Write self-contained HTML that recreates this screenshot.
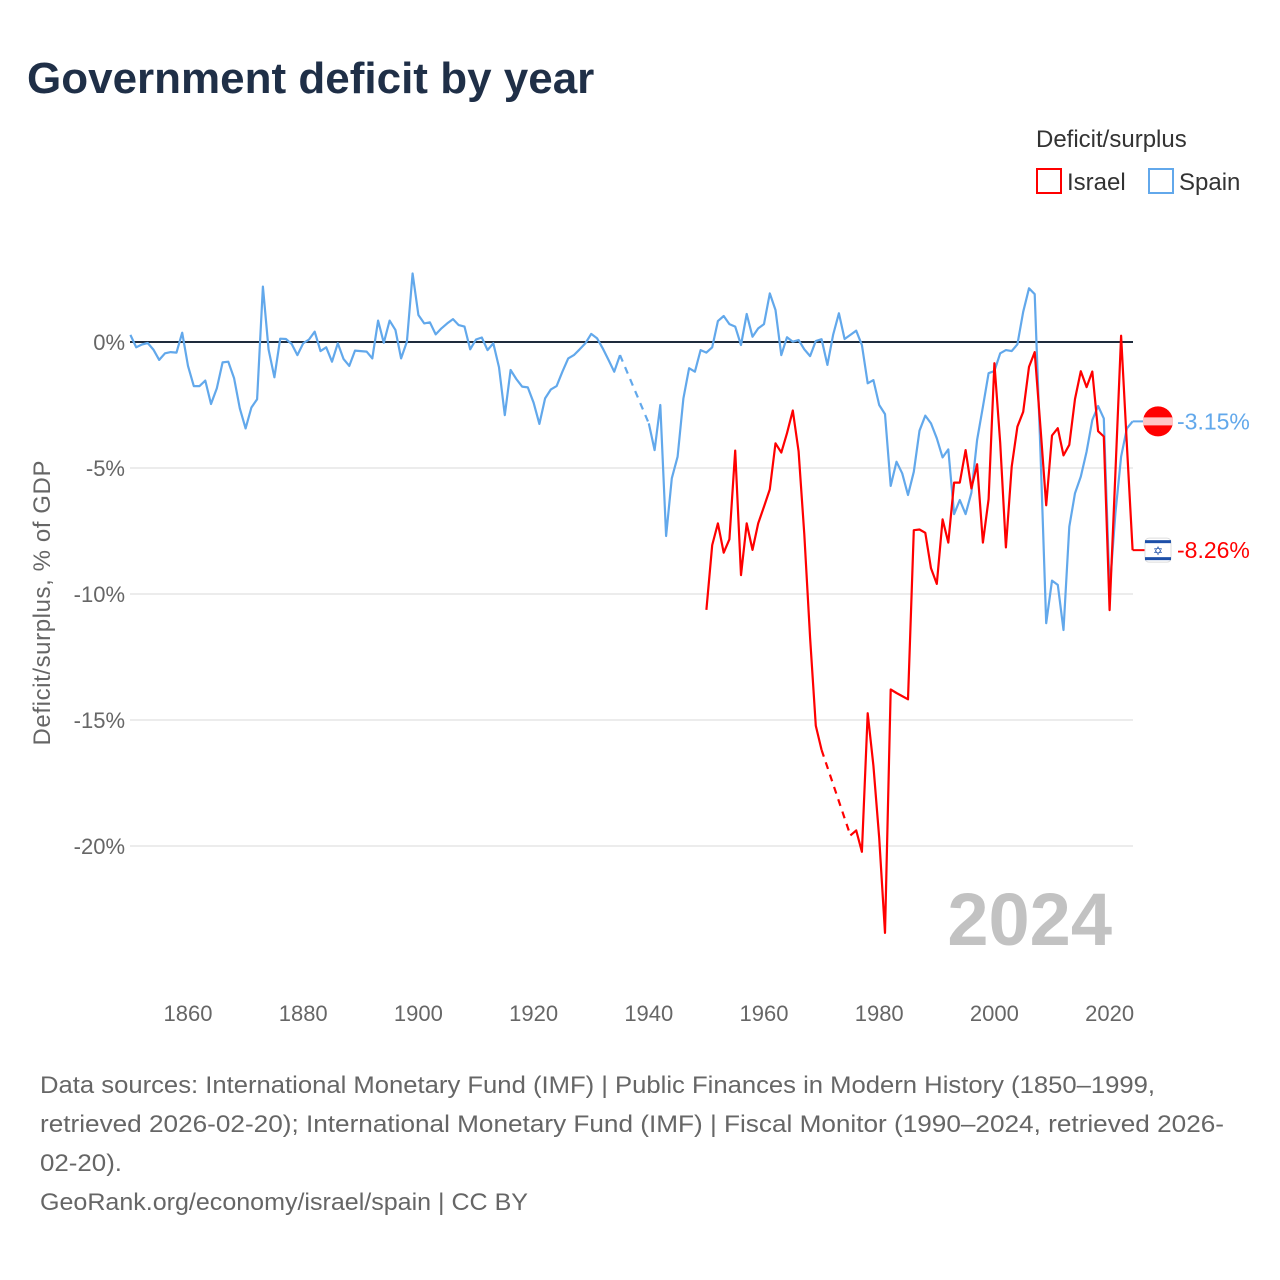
<!DOCTYPE html>
<html><head><meta charset="utf-8">
<style>
body{margin:0;background:#fff;font-family:"Liberation Sans",sans-serif;}
#wrap{position:relative;width:1280px;height:1280px;overflow:hidden;}
</style></head>
<body>
<div id="wrap">
<svg id="chart" width="1280" height="1280" xmlns="http://www.w3.org/2000/svg">
  <text x="27" y="93" font-size="44" font-weight="bold" fill="#1f2f47" font-family="Liberation Sans, sans-serif">Government deficit by year</text>
  <g font-family="Liberation Sans, sans-serif">
    <text x="1036" y="147" font-size="24" fill="#333">Deficit/surplus</text>
    <g>
      <rect x="1037" y="169" width="24" height="24" fill="#fff" stroke="#f00" stroke-width="2"/>
      <text x="1067" y="190" font-size="24" fill="#333">Israel</text>
    </g>
    <g>
      <rect x="1149" y="169" width="24" height="24" fill="#fff" stroke="#62a8eb" stroke-width="2"/>
      <text x="1179" y="190" font-size="24" fill="#333">Spain</text>
    </g>
  </g>
  <text transform="translate(50,603) rotate(-90)" text-anchor="middle" font-size="24" fill="#666" font-family="Liberation Sans, sans-serif" textLength="285">Deficit/surplus, % of GDP</text>
  <text x="1112" y="945" text-anchor="end" font-size="74" font-weight="bold" fill="#c2c2c2" font-family="Liberation Sans, sans-serif">2024</text>
  <g id="grid"></g>
  <g id="xticks"></g>
  <g id="series"></g>
  <g id="labels"></g>
  <g font-size="24" fill="#666" font-family="Liberation Sans, sans-serif">
    <text x="40" y="1093" textLength="1115" lengthAdjust="spacingAndGlyphs">Data sources: International Monetary Fund (IMF) | Public Finances in Modern History (1850–1999,</text>
    <text x="40" y="1132" textLength="1184" lengthAdjust="spacingAndGlyphs">retrieved 2026-02-20); International Monetary Fund (IMF) | Fiscal Monitor (1990–2024, retrieved 2026-</text>
    <text x="40" y="1171" textLength="82" lengthAdjust="spacingAndGlyphs">02-20).</text>
    <text x="40" y="1210" textLength="488" lengthAdjust="spacingAndGlyphs">GeoRank.org/economy/israel/spain | CC BY</text>
  </g>
</svg>
</div>
<script>
const yTicks = [0, -5, -10, -15, -20];
const xTicks = [1860, 1880, 1900, 1920, 1940, 1960, 1980, 2000, 2020];
const spainStart = 1850;
const spainValues = [0.28,-0.21,-0.1,-0.04,-0.3,-0.71,-0.45,-0.4,-0.42,0.37,
-0.95,-1.75,-1.75,-1.53,-2.46,-1.84,-0.81,-0.78,-1.44,-2.63,
-3.43,-2.6,-2.27,2.2,-0.3,-1.4,0.13,0.12,-0.08,-0.52,
-0.05,0.1,0.41,-0.36,-0.21,-0.78,-0.05,-0.67,-0.95,-0.34,
-0.36,-0.38,-0.65,0.85,-0.03,0.85,0.48,-0.65,0.01,2.72,
1.07,0.74,0.78,0.3,0.54,0.74,0.91,0.67,0.61,-0.29,
0.1,0.18,-0.32,-0.05,-1.0,-2.9,-1.11,-1.47,-1.77,-1.8,
-2.41,-3.25,-2.24,-1.88,-1.75,-1.18,-0.65,-0.52,-0.29,-0.05,
0.32,0.15,-0.25,-0.71,-1.18,-0.52,null,null,null,null,
-3.23,-4.29,-2.5,-7.7,-5.41,-4.55,-2.24,-1.04,-1.18,-0.32,
-0.42,-0.21,0.83,1.03,0.71,0.61,-0.12,1.11,0.21,0.54,
0.71,1.93,1.27,-0.52,0.19,0.01,0.08,-0.29,-0.56,0.04,
0.11,-0.91,0.28,1.14,0.12,0.28,0.45,-0.12,-1.64,-1.51,
-2.5,-2.86,-5.71,-4.75,-5.21,-6.07,-5.15,-3.52,-2.92,-3.23,
-3.82,-4.58,-4.26,-6.83,-6.27,-6.83,-5.98,-3.89,-2.57,-1.24,
-1.15,-0.45,-0.32,-0.36,-0.09,1.2,2.13,1.9,-4.4,-11.16,
-9.47,-9.64,-11.43,-7.33,-6.0,-5.34,-4.35,-3.1,-2.54,-3.03,
-9.84,-6.8,-4.55,-3.43,-3.15];
const israelStart = 1950;
const israelValues = [-10.63,-8.06,-7.2,-8.36,-7.83,-4.31,-9.25,-7.2,-8.25,-7.2,
-6.53,-5.85,-4.02,-4.39,-3.62,-2.72,-4.34,-7.63,-11.74,-15.23,
-16.19,null,null,null,null,-19.58,-19.38,-20.23,-14.73,-16.81,
-19.68,-23.45,-13.79,-13.93,-14.05,-14.18,-7.47,-7.44,-7.57,-8.98,
-9.6,-7.04,-7.96,-5.58,-5.58,-4.29,-5.81,-4.85,-7.96,-6.24,
-0.84,-4.0,-8.15,-4.95,-3.36,-2.77,-0.99,-0.4,-3.4,-6.48,
-3.71,-3.42,-4.5,-4.08,-2.26,-1.16,-1.79,-1.17,-3.54,-3.75,
-10.64,-5.2,0.25,-4.1,-8.26];
const finalLabels = ["-3.15%", "-8.26%"];

const NS = "http://www.w3.org/2000/svg";
function xS(yr){ return 130.4 + (yr - 1850) * 5.76; }
function yS(v){ return 342 - v * 25.2; }
function mk(tag, attrs, parent){ const e=document.createElementNS(NS,tag); for(const k in attrs) e.setAttribute(k,attrs[k]); parent.appendChild(e); return e; }

const grid = document.getElementById('grid');
yTicks.forEach(t=>{
  if(t!==0){
    const l = mk('line',{x1:130,x2:1133,y1:yS(t),y2:yS(t),stroke:'#e6e6e6','stroke-width':1.5},grid);
    
    
  }
  const tx = mk('text',{x:125,y:yS(t)+8,'text-anchor':'end','font-size':22,fill:'#666','font-family':'Liberation Sans, sans-serif'},grid);
  tx.textContent = t + '%';
  
  
});
const xt = document.getElementById('xticks');
xTicks.forEach(t=>{
  const tx = mk('text',{x:xS(t),y:1021,'text-anchor':'middle','font-size':22,fill:'#666','font-family':'Liberation Sans, sans-serif'},xt);
  tx.textContent = t;
  
  
});

function drawSeries(start, vals, color, name){
  const g = document.getElementById('series');
  const solid=[]; let cur=[]; const dashes=[]; let last=null;
  vals.forEach((v,i)=>{
    const yr=start+i;
    if(v===null){ if(cur.length){solid.push(cur);cur=[];} return; }
    const p=[xS(yr),yS(v)];
    if(last && last.i!==i-1) dashes.push([last.p,p]);
    cur.push(p); last={i,p};
  });
  if(cur.length) solid.push(cur);
  solid.forEach(s=>{
    const d = s.map((p,j)=>(j?'L':'M')+p[0].toFixed(1)+','+p[1].toFixed(1)).join('');
    const path = mk('path',{d,fill:'none',stroke:color,'stroke-width':2.2,'stroke-linejoin':'round'},g);
    
    
  });
  dashes.forEach(s=>{
    const path = mk('path',{d:'M'+s[0].join(',')+'L'+s[1].join(','),fill:'none',stroke:color,'stroke-width':2.2,'stroke-dasharray':'7,6'},g);
    
    
  });
  return last.p;
}
const zl = mk('line',{x1:130,x2:1133,y1:yS(0),y2:yS(0),stroke:'#1e2b3c','stroke-width':2},document.getElementById('grid'));



const pS = drawSeries(spainStart, spainValues, '#62a8eb', 'spain');
const pI = drawSeries(israelStart, israelValues, '#ff0000', 'israel');

const lab = document.getElementById('labels');
const c1 = mk('line',{x1:pS[0],y1:pS[1],x2:1145,y2:pS[1],stroke:'#62a8eb','stroke-width':2},lab);


const c2 = mk('line',{x1:pI[0],y1:pI[1],x2:1145,y2:pI[1],stroke:'#ff0000','stroke-width':2},lab);


const fs = mk('g',{},lab);


mk('circle',{cx:1158,cy:pS[1],r:15,fill:'#ff0000'},fs);
mk('rect',{x:1143,y:pS[1]-4,width:30,height:8,fill:'#ffc4c4'},fs);
const ts = mk('text',{x:1177,y:pS[1]+8,'font-size':23,fill:'#62a8eb','font-family':'Liberation Sans, sans-serif'},lab);
ts.textContent = finalLabels[0];


const fi = mk('g',{},lab);


mk('rect',{x:1145,y:pI[1]-12,width:26,height:24,rx:4,fill:'#fff',stroke:'#ddd','stroke-width':1},fi);
mk('rect',{x:1145,y:pI[1]-10,width:26,height:3,fill:'#1d4fa8'},fi);
mk('rect',{x:1145,y:pI[1]+7,width:26,height:3,fill:'#1d4fa8'},fi);
const st = mk('text',{x:1158,y:pI[1]+5,'text-anchor':'middle','font-size':12,fill:'#1d4fa8','font-family':'DejaVu Sans, sans-serif'},fi);
st.textContent='✡';
const ti = mk('text',{x:1177,y:pI[1]+8,'font-size':23,fill:'#ff0000','font-family':'Liberation Sans, sans-serif'},lab);
ti.textContent = finalLabels[1];


</script>
</body></html>
